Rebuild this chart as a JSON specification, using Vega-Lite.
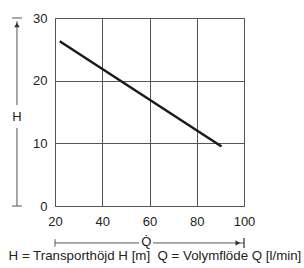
{
  "$schema": "https://vega.github.io/schema/vega-lite/v6.json",
  "width": 189,
  "height": 188,
  "autosize": {"type": "none"},
  "padding": {"left": 55, "top": 18, "right": 60, "bottom": 62},
  "background": "white",
  "config": {
    "view": {"stroke": "#555", "strokeWidth": 1},
    "axis": {"labelFont": "Liberation Sans", "labelFontSize": 13, "labelColor": "#222", "gridColor": "#555", "gridOpacity": 1, "gridWidth": 1, "domain": false, "ticks": false, "labelFlush": false},
    "text": {"font": "Liberation Sans", "color": "#222"},
    "mark": {"clip": false}
  },
  "encoding": {
    "x": {"type": "quantitative", "scale": {"domain": [20, 100], "nice": false}, "axis": {"values": [20, 40, 60, 80, 100], "labelPadding": 9, "grid": true, "title": null}},
    "y": {"type": "quantitative", "scale": {"domain": [0, 30], "nice": false}, "axis": {"values": [0, 10, 20, 30], "labelPadding": 8, "grid": true, "title": null}}
  },
  "layer": [
    {
      "data": {"values": [{"Q": 22, "H": 26.3}, {"Q": 90.5, "H": 9.5}]},
      "mark": {"type": "line", "color": "#1a1a1a", "strokeWidth": 2.5},
      "encoding": {
        "x": {"field": "Q", "type": "quantitative"},
        "y": {"field": "H", "type": "quantitative"}
      }
    },
    {
      "data": {"values": [{}]},
      "layer": [
        {"mark": {"type": "rule", "color": "#555", "strokeWidth": 1, "clip": false},
         "encoding": {"x": {"datum": 3.9}, "y": {"datum": 16.1}, "y2": {"datum": 29.5}}},
        {"mark": {"type": "rule", "color": "#555", "strokeWidth": 1, "clip": false},
         "encoding": {"x": {"datum": 3.9}, "y": {"datum": 0}, "y2": {"datum": 12.45}}},
        {"mark": {"type": "rule", "color": "#555", "strokeWidth": 1, "clip": false},
         "encoding": {"x": {"datum": 1.8}, "x2": {"datum": 6.0}, "y": {"datum": 30}}},
        {"mark": {"type": "rule", "color": "#555", "strokeWidth": 1, "clip": false},
         "encoding": {"x": {"datum": 1.8}, "x2": {"datum": 6.0}, "y": {"datum": 0}}},
        {"mark": {"type": "point", "shape": "triangle-up", "filled": true, "color": "#333", "size": 30, "opacity": 1, "clip": false},
         "encoding": {"x": {"datum": 3.9}, "y": {"datum": 28.9}}},
        {"mark": {"type": "text", "text": "H", "fontSize": 13, "baseline": "middle", "align": "center", "clip": false},
         "encoding": {"x": {"datum": 3.9}, "y": {"datum": 14.2}}},
        {"mark": {"type": "rule", "color": "#555", "strokeWidth": 1, "clip": false},
         "encoding": {"x": {"datum": 20}, "x2": {"datum": 55.6}, "y": {"datum": -5.9}}},
        {"mark": {"type": "rule", "color": "#555", "strokeWidth": 1, "clip": false},
         "encoding": {"x": {"datum": 61.5}, "x2": {"datum": 100}, "y": {"datum": -5.9}}},
        {"mark": {"type": "rule", "color": "#555", "strokeWidth": 1, "clip": false},
         "encoding": {"x": {"datum": 20}, "y": {"datum": -5.3}, "y2": {"datum": -6.5}}},
        {"mark": {"type": "rule", "color": "#555", "strokeWidth": 1.5, "clip": false},
         "encoding": {"x": {"datum": 100}, "y": {"datum": -5.1}, "y2": {"datum": -6.7}}},
        {"mark": {"type": "point", "shape": "triangle-right", "filled": true, "color": "#333", "size": 30, "opacity": 1, "clip": false},
         "encoding": {"x": {"datum": 97.4}, "y": {"datum": -5.9}}},
        {"mark": {"type": "text", "text": "Q̇", "fontSize": 13, "baseline": "middle", "align": "center", "clip": false},
         "encoding": {"x": {"datum": 58.6}, "y": {"datum": -5.8}}},
        {"mark": {"type": "text", "text": "H = Transporthöjd H [m]\u00a0 Q = Volymflöde Q [l/min]", "fontSize": 13.3, "baseline": "middle", "align": "center", "clip": false},
         "encoding": {"x": {"datum": 62.3}, "y": {"datum": -8.0}}}
      ]
    }
  ]
}
